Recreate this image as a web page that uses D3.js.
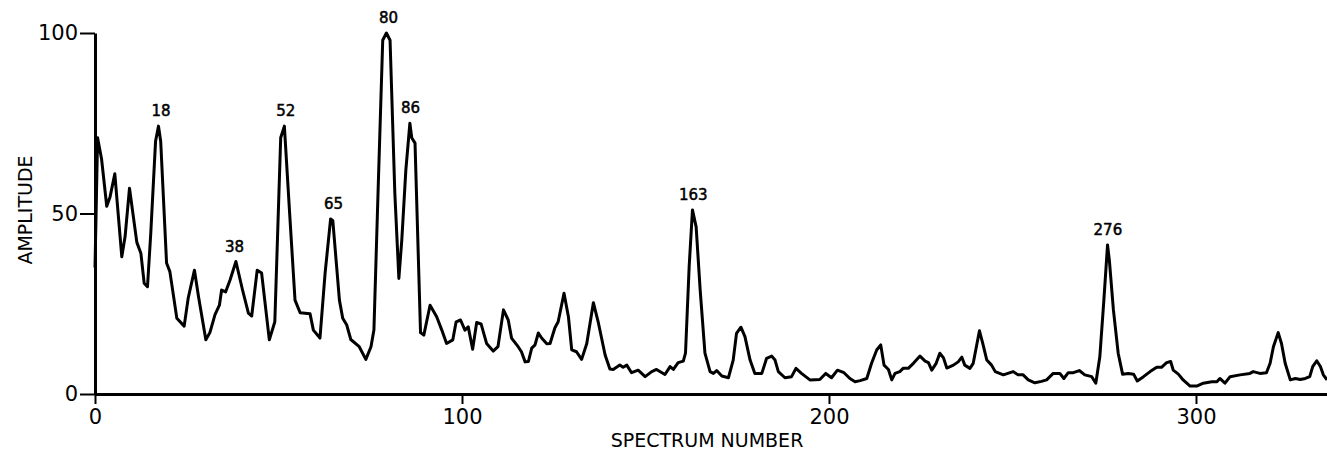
<!DOCTYPE html>
<html>
<head>
<meta charset="utf-8">
<script src="https://cdn.jsdelivr.net/npm/d3@7"></script>
<style>
  html, body { margin: 0; padding: 0; background: #fff; }
  svg { display: block; }
</style>
</head>
<body>
<script>
// spectrum number (x) and amplitude (y)
const spectrum = [0, 0.3, 0.7, 1.8, 3.2, 4.1, 5.4, 7.3, 8.2, 9.4, 11.4, 12.5, 13.4, 14.3, 15.2, 16.5, 17.3, 17.9, 19.5, 20.4,
  22.3, 24.3, 25.4, 27.1, 28.2, 30.2, 31.3, 32.7, 33.9, 34.5, 35.6, 36.8, 38.4, 40.2, 41.8, 42.7, 44.2, 45.4, 47.5, 49,
  50.6, 51.6, 53.1, 54.5, 55.9, 58.6, 59.5, 61.3, 62.7, 64.2, 64.8, 66.6, 67.5, 68.6, 69.7, 72, 73.8, 75.2, 76, 77.2,
  78.4, 79.4, 80.4, 81.7, 82.8, 83.6, 84.7, 85.8, 86.3, 87.2, 88.7, 89.6, 91.3, 93.1, 94.5, 95.8, 97.5, 98.4, 99.6, 100.8,
  101.7, 102.9, 104, 105.2, 106.7, 108.5, 109.8, 111.3, 112.6, 113.5, 115.3, 116.2, 117.2, 118.1, 119, 119.9, 120.8, 121.7, 123.1, 124,
  125.3, 126.2, 127.8, 129, 129.9, 131.2, 132.6, 134, 135.8, 137.1, 139, 140.3, 141.2, 143, 143.9, 144.9, 146.2, 148, 149.9, 151.7,
  153, 155.3, 156.7, 157.6, 158.9, 160.3, 160.9, 161.9, 162.8, 163.8, 164.9, 166.2, 167.6, 168.5, 169.4, 170.8, 172.6, 173.9, 174.8, 176,
  177.1, 178.5, 179.8, 181.7, 183, 184.4, 185.3, 186.2, 188, 189.8, 191, 192.5, 194.8, 197.5, 199.1, 200.7, 202.3, 204.1, 205.7, 207.1,
  208.5, 210.3, 211.6, 213, 214.1, 215, 216.2, 217.1, 218, 219.3, 220.2, 221.6, 223, 224.8, 226.2, 227.1, 228, 229.2, 230.2, 231.2,
  232.1, 233.9, 235.2, 236.2, 237, 238.4, 239.3, 241, 241.9, 243, 244.3, 245.3, 247.5, 250.2, 251.5, 252.9, 254.3, 256.1, 257.9, 259.3,
  261.1, 262.9, 264, 265.2, 266.6, 268.2, 269.7, 271.6, 272.7, 273.8, 274.9, 275.9, 276.4, 277.5, 278.8, 280, 281.6, 283, 284, 285.7,
  287.5, 289.3, 290.6, 292, 293.1, 293.8, 295.2, 296.5, 298.4, 300.2, 302, 304.3, 305.7, 306.5, 307.9, 309.3, 312, 314.7, 315.6, 317.4,
  319.2, 320.2, 321.1, 322.4, 323.3, 324.3, 325.7, 327.1, 328.4, 329.8, 331, 331.8, 332.9, 333.9, 334.7, 335.7];

const amplitude = [35, 50, 71, 65, 52, 54.6, 61, 38, 43.6, 57, 42, 39, 30.7, 29.7, 44.6, 70, 74.2, 70, 36.3, 33.9,
  21, 18.8, 26.6, 34.3, 27, 15, 17, 22, 24.6, 28.8, 28.3, 31.6, 36.7, 28.8, 22.4, 21.6, 34.3, 33.5, 15, 20,
  71, 74.2, 49, 26, 22.5, 22.2, 17.7, 15.5, 33.5, 48.5, 48, 26, 21, 19.1, 15.1, 13.1, 9.6, 13.1, 17.7, 58.4,
  98, 100, 98, 55.6, 32, 42.7, 62, 75, 71, 69.5, 17, 16.3, 24.6, 21.4, 17.7, 14, 15, 20, 20.5, 17.7,
  18.6, 12.4, 19.8, 19.4, 14, 11.9, 13.1, 23.3, 20.5, 15.5, 13.1, 11.7, 8.9, 9, 12.7, 13.6, 16.9, 15.5, 13.9, 14,
  18.3, 20, 27.9, 21.4, 12.2, 11.7, 9.6, 14, 25.3, 20, 10.8, 6.9, 6.8, 8, 7.4, 8, 5.9, 6.6, 4.8, 6.2,
  6.8, 5.4, 7.6, 6.8, 8.7, 9.1, 11.3, 35.3, 51, 46.3, 28.8, 11.3, 6.2, 5.7, 6.5, 5, 4.5, 9.4, 16.8, 18.5,
  15.9, 9.4, 5.7, 5.7, 9.9, 10.5, 9.4, 6.2, 4.5, 4.8, 7.1, 5.7, 3.9, 4, 5.7, 4.5, 6.6, 5.9, 4.3, 3.4,
  3.7, 4.3, 8.5, 12.2, 13.6, 8, 6.8, 3.9, 5.7, 6.2, 7.1, 7.1, 8.5, 10.5, 9.1, 8.7, 6.6, 8.5, 11.3, 10,
  7.2, 8, 8.9, 10.2, 8, 7.1, 8.5, 17.5, 14, 9.4, 8, 6.2, 5.3, 6.2, 5.3, 5.3, 3.9, 3.1, 3.5, 3.9,
  5.7, 5.7, 4.3, 5.9, 5.9, 6.5, 5.3, 4.8, 3, 10.3, 26, 41.3, 37, 23.3, 11.3, 5.5, 5.7, 5.5, 3.6, 4.8,
  6.2, 7.4, 7.4, 8.7, 9, 6.6, 5.5, 3.9, 2.2, 2.2, 3, 3.4, 3.4, 4.3, 3, 4.8, 5.3, 5.7, 6.2, 5.7,
  5.9, 8.5, 13.1, 17, 14, 8.5, 3.9, 4.3, 4, 4.3, 4.8, 7.6, 9.2, 7.6, 5.3, 3.9];

// labelled peaks
const peakNumbers = [18, 38, 52, 65, 80, 86, 163, 276];
const peakHeights = [74.2, 36.7, 74.2, 48.5, 100, 75, 51, 41.3];

const xTicks = [0, 100, 200, 300];
const yTicks = [0, 50, 100];

const width = 1327, height = 456;
const font = "'DejaVu Sans', 'Liberation Sans', sans-serif";

const svg = d3.select('body').append('svg')
    .attr('width', width)
    .attr('height', height);

const x = d3.scaleLinear().domain([0, 335.7]).range([95, 1327]);
const y = d3.scaleLinear().domain([0, 100]).range([394, 33]);

// axes
const xAxis = svg.append('g')
    .attr('transform', `translate(0,${y(0)})`)
    .call(d3.axisBottom(x).tickValues(xTicks).tickFormat(d3.format('d'))
        .tickSize(10).tickSizeOuter(0).tickPadding(5));

const yAxis = svg.append('g')
    .attr('transform', `translate(${x(0)},0)`)
    .call(d3.axisLeft(y).tickValues(yTicks).tickFormat(d3.format('d'))
        .tickSize(15).tickSizeOuter(0).tickPadding(2));

[xAxis, yAxis].forEach(a => {
    a.select('.domain').attr('stroke', '#000').attr('stroke-width', 3);
    a.selectAll('.tick line').attr('stroke', '#000').attr('stroke-width', 2);
    a.selectAll('.tick text')
        .attr('fill', '#000')
        .style('font-family', font)
        .style('font-size', '21px');
});

// trace
const line = d3.line()
    .x((d, i) => x(spectrum[i]))
    .y(d => y(d));

svg.append('path')
    .datum(amplitude)
    .attr('fill', 'none')
    .attr('stroke', '#000')
    .attr('stroke-width', 3)
    .attr('stroke-linejoin', 'round')
    .attr('d', line);

// peak labels
svg.append('g').selectAll('text')
    .data(peakNumbers)
    .join('text')
    .attr('x', d => x(d))
    .attr('y', (d, i) => y(peakHeights[i]) - 10)
    .attr('text-anchor', 'middle')
    .attr('stroke', '#000')
    .attr('stroke-width', 0.5)
    .style('font-family', font)
    .style('font-size', '15px')
    .text(d => d);

// axis titles
svg.append('text')
    .attr('x', 707)
    .attr('y', 447)
    .attr('text-anchor', 'middle')
    .style('font-family', font)
    .style('font-size', '19px')
    .text('SPECTRUM NUMBER');

svg.append('text')
    .attr('transform', 'translate(32,210) rotate(-90)')
    .attr('text-anchor', 'middle')
    .style('font-family', font)
    .style('font-size', '19px')
    .text('AMPLITUDE');
</script>
</body>
</html>
